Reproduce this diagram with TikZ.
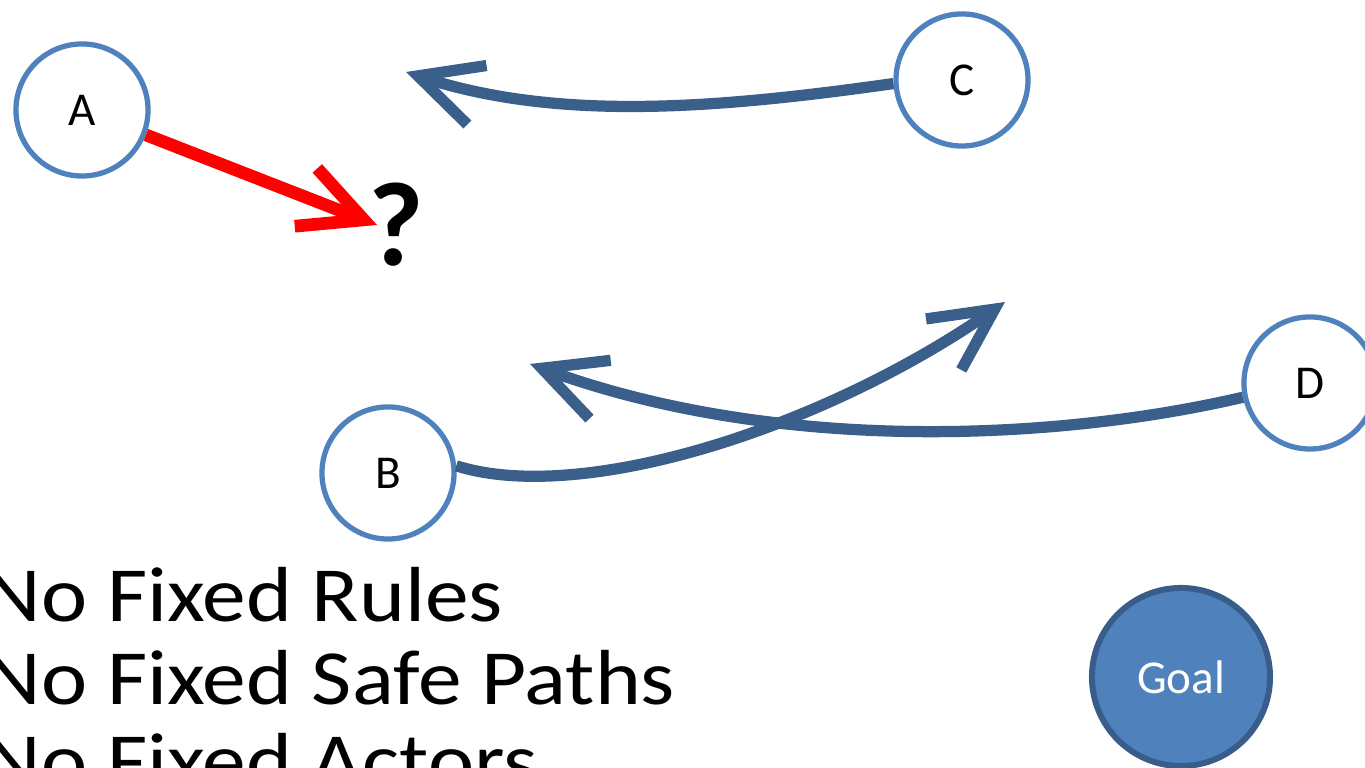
\documentclass[tikz,border=0pt]{standalone}
\usepackage{fontspec}
\setmainfont{Carlito}
\newfontfamily\widefont[FakeStretch=1.12]{Carlito}
\usetikzlibrary{arrows.meta}
\definecolor{ringblue}{HTML}{4F81BD}
\definecolor{arrowblue}{HTML}{3A5F8B}
\definecolor{goalrim}{HTML}{385D8A}

\begin{document}
\begin{tikzpicture}[x=0.01cm, y=-0.01cm,
    actor/.style = {circle, draw=ringblue, line width=1.5pt, minimum size=1.32cm,
                    inner sep=0pt, font=\fontsize{13.4}{16}\selectfont},
    goal/.style = {circle, draw=goalrim, fill=ringblue, line width=1.7pt,
                   minimum size=1.78cm, inner sep=0pt, text=white,
                   font=\fontsize{13.4}{16}\selectfont},
    rule/.style = {anchor=base west, inner sep=0pt,
                   font=\widefont\fontsize{22.2}{24}\selectfont},
    arrow/.style = {line width=3.2pt, arrowblue,
                    -{Straight Barb[length=0.62cm, width=0.62cm]}},
    redarrow/.style = {arrow, red, line width=3.6pt}]
    \useasboundingbox (0,0) rectangle (1365,768);

    \node[actor] (A) at (82,110) {A};
    \node[actor] (B) at (388,473) {B};
    \node[actor] (C) at (962,80) {C};
    \node[actor] (D) at (1310,383) {D};
    \node[goal] (goal) at (1181,677) {Goal};
    \node[anchor=base, inner sep=0pt, font=\fontsize{34}{40}\selectfont\bfseries]
        (q) at (396,266) {?};

    \coordinate (qtip) at (377,225);
    \coordinate (ctip) at (406,72);
    \coordinate (btip) at (1005,302);
    \coordinate (dtip) at (530,364);

    \draw[redarrow] (A) -- (qtip);
    \draw[arrow] (C.183) .. controls (720,108) and (560,122) .. (ctip);
    \draw[arrow] (B.6) .. controls (580,505) and (820,430) .. (btip);
    \draw[arrow] (D.192) .. controls (1060,440) and (780,455) .. (dtip);

    \node[rule] (rules) at (-16,622) {No Fixed Rules};
    \node[rule] (paths) at (-16,705) {No Fixed Safe Paths};
    \node[rule] (actors) at (-16,788) {No Fixed Actors};
\end{tikzpicture}
\end{document}
